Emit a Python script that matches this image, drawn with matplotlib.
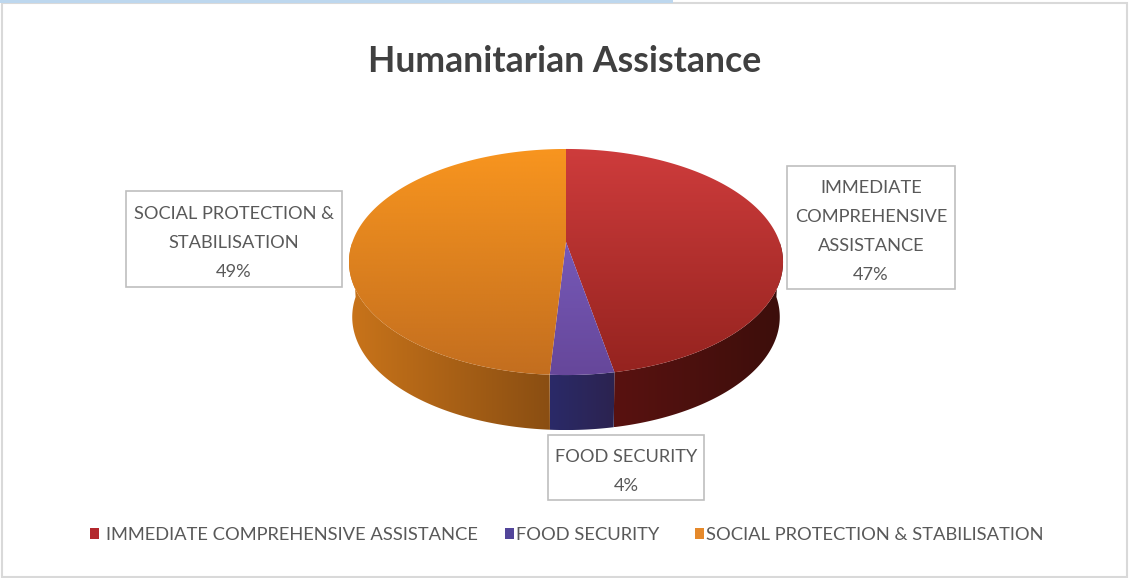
import numpy as np
import matplotlib
matplotlib.use('Agg')
import matplotlib.pyplot as plt
from matplotlib.colors import LinearSegmentedColormap
from matplotlib.patches import Polygon, Rectangle

plt.rcParams['font.family'] = ['Lato', 'DejaVu Sans']

title = 'Humanitarian Assistance'
categories = ['IMMEDIATE COMPREHENSIVE ASSISTANCE', 'FOOD SECURITY', 'SOCIAL PROTECTION & STABILISATION']
values = [47, 4, 49]
label_lines = [['IMMEDIATE', 'COMPREHENSIVE', 'ASSISTANCE'], ['FOOD SECURITY'], ['SOCIAL PROTECTION &', 'STABILISATION']]

top_colors = [('#CE3C3C', '#95231F'), ('#7659B8', '#66479A'), ('#F8951F', '#C36E1F')]
wall_colors = [('#591210', '#3C0E0B'), ('#2A2A68', '#2C2350'), ('#C9741A', '#8A4E12')]
key_colors = ['#B3282D', '#52459A', '#E5892B']

# box left, top, right, bottom of each data label
label_boxes = [(787, 166, 955, 289), (548, 435, 704, 500), (126, 191, 342, 287)]
# marker left, text left of each legend entry
legend_x = [(90, 106), (505, 516), (695, 706)]

# pie geometry in pixels, k is the perspective strength
cx, apex_y = 566.0, 242.0
sx, sy, k = 213.6, 109.5, 0.177
depth = 55.0
shrink = 0.985
text_color = '#595959'


def project(theta):
    w = 1 + k*np.cos(theta)
    return cx + sx*np.sin(theta)/w, apex_y - sy*np.cos(theta)/w


def gradient_fill(ax, verts, colors, horizontal=False):
    patch = Polygon(verts, closed=True, fc='none', ec='none')
    ax.add_patch(patch)
    cmap = LinearSegmentedColormap.from_list('g', colors)
    ramp = np.linspace(0, 1, 256)
    ramp = ramp[None, :] if horizontal else ramp[:, None]
    x0, x1 = verts[:, 0].min(), verts[:, 0].max()
    y0, y1 = verts[:, 1].min(), verts[:, 1].max()
    im = ax.imshow(ramp, cmap=cmap, extent=(x0, x1, y1, y0), aspect='auto', origin='upper', interpolation='bilinear')
    im.set_clip_path(patch)


fig = plt.figure(figsize=(11.29, 5.78), dpi=100)
ax = fig.add_axes([0, 0, 1, 1])

edges = np.radians(np.cumsum([0] + values)*3.6)

# side wall, only the front half shows
for i in range(len(values)):
    lo, hi = max(edges[i], np.pi/2), min(edges[i+1], 3*np.pi/2)
    ts = np.linspace(lo, hi, 120)
    x, y = project(ts)
    xb = cx + (x - cx)*shrink
    yb = y + depth
    verts = np.column_stack([np.r_[x, xb[::-1]], np.r_[y, yb[::-1]]])
    gradient_fill(ax, verts, wall_colors[i], horizontal=True)

# top face
for i in range(len(values)):
    ts = np.linspace(edges[i], edges[i+1], 200)
    x, y = project(ts)
    verts = np.column_stack([np.r_[cx, x], np.r_[apex_y, y]])
    gradient_fill(ax, verts, top_colors[i])

# data labels
for lines, val, box in zip(label_lines, values, label_boxes):
    l, t, r, b = box
    ax.add_patch(Rectangle((l, t), r-l, b-t, fc='white', ec='#BFBFBF', lw=1.2, zorder=3))
    rows = lines + ['%d%%' % val]
    mid = (t+b)/2 + 4
    for j, row in enumerate(rows):
        ax.text((l+r)/2, mid + (j-(len(rows)-1)/2)*29, row, ha='center', va='center',
                fontsize=13.15, color=text_color, zorder=4)

# legend
for name, col, (mx, tx) in zip(categories, key_colors, legend_x):
    ax.add_patch(Rectangle((mx, 528), 9, 11, fc=col, ec='none'))
    ax.text(tx, 535, name, ha='left', va='center', fontsize=13.2, color=text_color)

ax.text(565, 62, title, ha='center', va='center', fontsize=25.7, fontweight='bold', color='#404040')

# frame around the chart and the strip above it
ax.add_patch(Rectangle((2, 3), 1125, 574, fc='none', ec='#D9D9D9', lw=1.5))
ax.add_patch(Rectangle((0, 0), 673, 3, fc='#BDD7EE', ec='none'))

ax.set_xlim(0, 1129)
ax.set_ylim(578, 0)
ax.axis('off')
fig.savefig('out.png', dpi=100, facecolor='white')
